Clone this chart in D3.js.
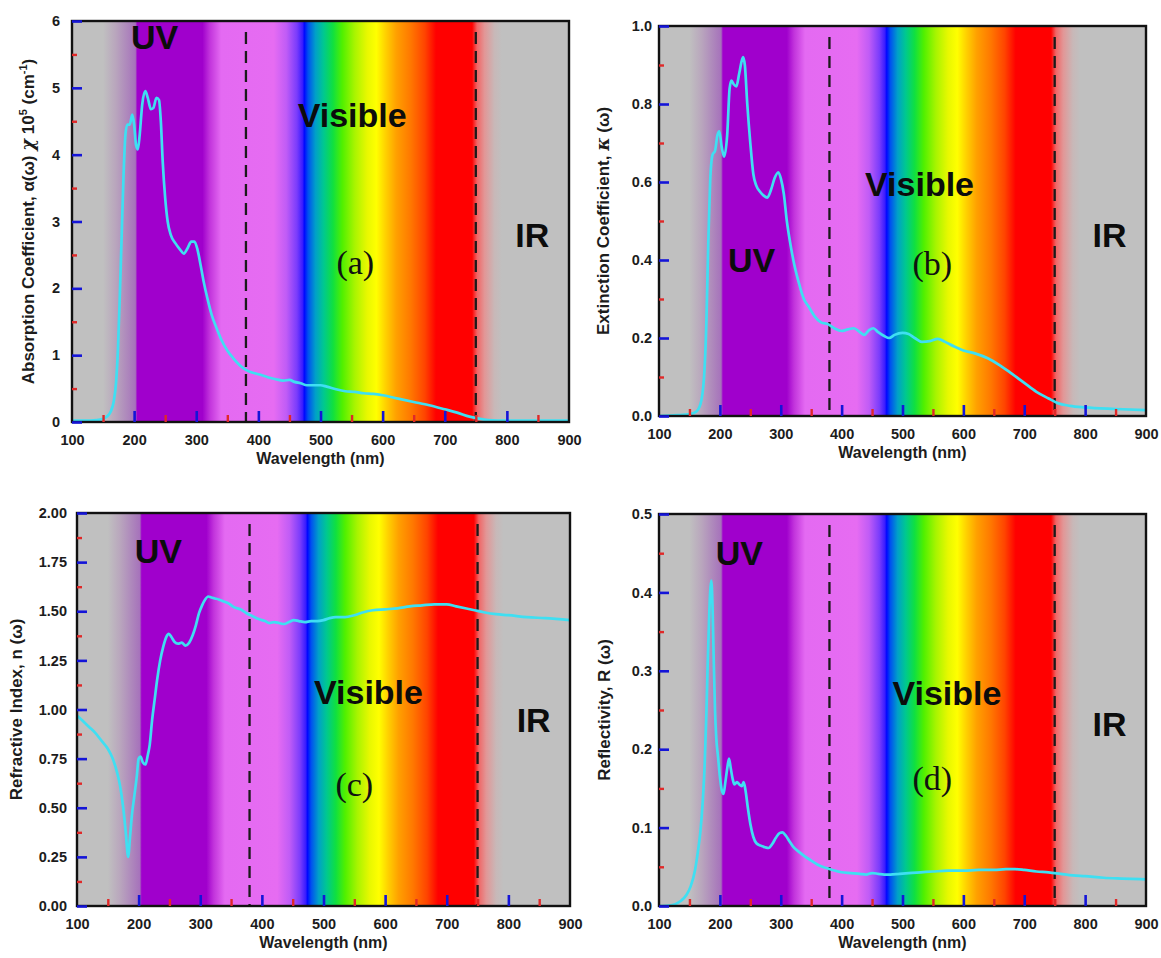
<!DOCTYPE html>
<html>
<head>
<meta charset="utf-8">
<script src="https://cdn.jsdelivr.net/npm/d3@7"></script>
<style>
  body { margin: 0; background: #ffffff; }
  svg { display: block; }
  text { font-family: "Liberation Sans", Arial, sans-serif; }
</style>
</head>
<body>
<svg id="fig" width="1161" height="958"></svg>
<script>
// ---- data -------------------------------------------------------------
const wavelengthTicks = [100, 200, 300, 400, 500, 600, 700, 800, 900];
const wavelengthMinor = [150, 250, 350, 450, 550, 650, 750, 850];
const regionBounds = [380, 750];

// (a) absorption coefficient, alpha x 10^5 (cm^-1)
const absorption = [
  [100,0.02],[120,0.02],[140,0.03],[150,0.05],[156,0.08],[162,0.15],[167,0.3],[171,0.6],
  [174,1.1],[177,1.9],[180,2.8],[183,3.7],[186,4.3],[189,4.45],[193,4.45],[197,4.6],
  [200,4.45],[203,4.15],[206,4.08],[209,4.3],[213,4.75],[218,4.95],[222,4.85],[227,4.68],
  [231,4.7],[236,4.85],[240,4.82],[243,4.5],[246,3.9],[250,3.35],[254,3.0],[259,2.8],
  [266,2.68],[274,2.58],[280,2.52],[286,2.6],[292,2.7],[297,2.7],[302,2.58],[307,2.35],
  [312,2.1],[318,1.85],[325,1.6],[333,1.4],[341,1.22],[350,1.07],[360,0.95],[370,0.85],
  [380,0.78],[390,0.74],[402,0.71],[415,0.67],[428,0.64],[440,0.62],[450,0.63],[458,0.6],
  [468,0.58],[478,0.55],[490,0.55],[500,0.55],[510,0.53],[525,0.49],[540,0.46],[555,0.45],
  [570,0.43],[585,0.42],[600,0.4],[625,0.35],[650,0.3],[675,0.25],[700,0.19],[720,0.14],
  [740,0.08],[755,0.05],[770,0.03],[800,0.02],[850,0.02],[900,0.02]
];

// (b) extinction coefficient, kappa
const extinction = [
  [100,0.0],[130,0.002],[150,0.005],[160,0.01],[168,0.03],[174,0.1],[178,0.25],[181,0.45],
  [184,0.6],[188,0.67],[192,0.68],[196,0.72],[199,0.73],[203,0.69],[207,0.665],[212,0.72],
  [216,0.84],[219,0.86],[223,0.85],[227,0.845],[232,0.88],[238,0.92],[241,0.9],[245,0.8],
  [250,0.7],[255,0.62],[260,0.59],[266,0.575],[272,0.565],[278,0.56],[284,0.58],[290,0.61],
  [296,0.625],[300,0.61],[305,0.57],[310,0.5],[316,0.44],[322,0.39],[330,0.34],[338,0.3],
  [346,0.28],[356,0.255],[366,0.24],[378,0.235],[388,0.225],[400,0.218],[410,0.222],
  [420,0.225],[430,0.215],[437,0.208],[445,0.22],[452,0.225],[460,0.215],[470,0.205],
  [478,0.2],[487,0.208],[500,0.213],[510,0.21],[520,0.2],[532,0.19],[545,0.192],[558,0.198],
  [570,0.19],[585,0.178],[600,0.168],[620,0.16],[640,0.148],[660,0.13],[680,0.108],
  [700,0.085],[720,0.062],[740,0.045],[755,0.033],[775,0.026],[800,0.022],[850,0.018],[900,0.015]
];

// (c) refractive index, n
const refractive = [
  [100,0.97],[110,0.94],[120,0.91],[130,0.88],[140,0.84],[150,0.8],[158,0.75],[165,0.68],
  [170,0.61],[175,0.5],[179,0.38],[183,0.25],[186,0.35],[189,0.46],[193,0.56],[197,0.66],
  [200,0.75],[203,0.76],[207,0.73],[211,0.72],[215,0.77],[218,0.82],[222,0.95],[226,1.05],
  [230,1.15],[235,1.25],[240,1.32],[245,1.37],[249,1.385],[253,1.37],[258,1.345],[264,1.335],
  [270,1.34],[276,1.325],[282,1.34],[288,1.38],[293,1.43],[298,1.49],[303,1.53],[308,1.56],
  [313,1.575],[318,1.57],[324,1.565],[330,1.56],[338,1.55],[346,1.54],[355,1.52],[365,1.51],
  [375,1.49],[385,1.475],[395,1.46],[405,1.45],[412,1.44],[420,1.445],[428,1.44],[436,1.435],
  [444,1.445],[452,1.455],[460,1.45],[470,1.445],[480,1.45],[490,1.45],[500,1.455],[510,1.465],
  [520,1.47],[535,1.47],[550,1.48],[565,1.495],[580,1.505],[600,1.51],[620,1.515],[640,1.525],
  [660,1.53],[680,1.535],[700,1.535],[715,1.525],[730,1.515],[745,1.505],[760,1.495],
  [780,1.485],[800,1.48],[830,1.47],[860,1.465],[900,1.455]
];

// (d) reflectivity, R
const reflectivity = [
  [100,0.0],[120,0.001],[135,0.006],[145,0.014],[152,0.025],[159,0.045],[164,0.07],[168,0.095],
  [172,0.135],[175,0.18],[178,0.25],[180,0.31],[182,0.36],[184,0.4],[186,0.415],[188,0.38],
  [190,0.31],[192,0.25],[194,0.215],[197,0.19],[200,0.165],[203,0.148],[206,0.143],[209,0.158],
  [212,0.175],[215,0.188],[218,0.175],[221,0.162],[224,0.155],[228,0.158],[232,0.155],
  [236,0.153],[239,0.158],[242,0.148],[246,0.125],[250,0.105],[255,0.088],[260,0.08],
  [267,0.077],[274,0.075],[280,0.074],[286,0.079],[292,0.087],[298,0.093],[303,0.094],
  [308,0.09],[314,0.083],[320,0.076],[330,0.069],[340,0.063],[350,0.058],[360,0.053],
  [372,0.049],[385,0.046],[400,0.043],[415,0.042],[430,0.041],[440,0.04],[450,0.042],
  [460,0.041],[470,0.04],[480,0.04],[495,0.041],[510,0.042],[530,0.043],[550,0.044],
  [575,0.045],[600,0.045],[625,0.046],[650,0.046],[670,0.047],[685,0.047],[700,0.046],
  [720,0.044],[740,0.043],[760,0.041],[780,0.039],[800,0.038],[830,0.036],[860,0.035],[900,0.034]
];

// y-axis ticks of each panel
const yTicksA = [0, 1, 2, 3, 4, 5, 6];
const yMinorA = [0.5, 1.5, 2.5, 3.5, 4.5, 5.5];
const yTicksB = [0, 0.2, 0.4, 0.6, 0.8, 1.0];
const yMinorB = [0.1, 0.3, 0.5, 0.7, 0.9];
const yTicksC = [0, 0.25, 0.5, 0.75, 1.0, 1.25, 1.5, 1.75, 2.0];
const yMinorC = [0.125, 0.375, 0.625, 0.875, 1.125, 1.375, 1.625, 1.875];
const yTicksD = [0, 0.1, 0.2, 0.3, 0.4, 0.5];
const yMinorD = [0.05, 0.15, 0.25, 0.35, 0.45];

// background spectrum colour stops (wavelength in nm)
const spectrumStops = [
  [100,"#c0c0c0"],[150,"#c0c0c0"],[170,"#b9a6bd"],[202,"#a672bb"],[205,"#a000cc"],
  [310,"#a000cc"],[322,"#c234dc"],[340,"#e46af2"],[425,"#e66cf2"],[445,"#c05cf6"],
  [462,"#7a3cfc"],[471,"#3a1cff"],[474,"#0008ff"],[480,"#0050f0"],[492,"#00a0c8"],
  [505,"#00c890"],[520,"#10e040"],[535,"#50f000"],[555,"#a8f400"],[575,"#e8f800"],
  [590,"#ffff00"],[605,"#ffd000"],[622,"#ffa000"],[645,"#ff7800"],[668,"#ff4400"],
  [686,"#ff0000"],[744,"#ff0000"],[752,"#f06666"],[764,"#e29696"],[780,"#c8b8b8"],
  [792,"#c0c0c0"],[900,"#c0c0c0"]
];

// ---- layout -----------------------------------------------------------
const panels = [
  { data: absorption, box: [72, 569, 21, 422], yDomain: [0, 6], ticks: yTicksA, minor: yMinorA,
    fmt: d3.format("d"), labelGap: 12, yTitleX: 34,
    title: [["Absorption Coefficient, α(ω) "], ["χ", "italic"], [" 10"], ["5", "sup"], [" (cm", "up"], ["-1", "sup"], [")", "up"]],
    letter: "(a)", pos: { uv: [233, 5.76], vis: [551, 4.6], ir: [841, 2.8], letter: [556, 2.38] } },
  { data: extinction, box: [659, 1146, 26, 416], yDomain: [0, 1], ticks: yTicksB, minor: yMinorB,
    fmt: d3.format(".1f"), labelGap: 7, yTitleX: 609,
    title: [["Extinction Coefficient, "], ["κ", "italic"], [" (ω)"]],
    letter: "(b)", pos: { uv: [252, 0.40], vis: [528, 0.595], ir: [840, 0.464], letter: [549, 0.392] } },
  { data: refractive, box: [77, 570, 513, 906], yDomain: [0, 2], ticks: yTicksC, minor: yMinorC,
    fmt: d3.format(".2f"), labelGap: 10, yTitleX: 22,
    title: [["Refractive Index, n (ω)"]],
    letter: "(c)", pos: { uv: [232, 1.807], vis: [573, 1.089], ir: [841, 0.947], letter: [550, 0.616] } },
  { data: reflectivity, box: [659, 1146, 514, 906], yDomain: [0, 0.5], ticks: yTicksD, minor: yMinorD,
    fmt: d3.format(".1f"), labelGap: 7, yTitleX: 610,
    title: [["Reflectivity, R (ω)"]],
    letter: "(d)", pos: { uv: [232, 0.450], vis: [573, 0.272], ir: [840, 0.232], letter: [549, 0.163] } }
];

const svg = d3.select("#fig");
const defs = svg.append("defs");

// shared spectrum gradient, laid out along the 100-900 nm span of each plot
const unit = d3.scaleLinear().domain([100, 900]).range([0, 1]);
const grad = defs.append("linearGradient")
  .attr("id", "spectrum").attr("x1", 0).attr("x2", 1).attr("y1", 0).attr("y2", 0);
grad.selectAll("stop").data(spectrumStops).join("stop")
  .attr("offset", d => unit(d[0]))
  .attr("stop-color", d => d[1]);

const majorBlue = "#1414d8";
const minorRed = "#e02828";
const curveColor = "#3fdff2";

panels.forEach((p, i) => {
  const [x0, x1, y0, y1] = p.box;
  const x = d3.scaleLinear().domain([100, 900]).range([x0, x1]);
  const y = d3.scaleLinear().domain(p.yDomain).range([y1, y0]);
  const g = svg.append("g");

  // spectrum background
  g.append("rect")
    .attr("x", x(100)).attr("y", y0)
    .attr("width", x(900) - x(100)).attr("height", y1 - y0)
    .attr("fill", "url(#spectrum)");

  // UV / visible / IR boundaries
  g.selectAll("line.bound").data(regionBounds).join("line")
    .attr("class", "bound")
    .attr("x1", d => x(d)).attr("x2", d => x(d))
    .attr("y1", y0 + 11).attr("y2", y1)
    .attr("stroke", "#1a1a1a").attr("stroke-width", 2.3)
    .attr("stroke-dasharray", "12,7");

  // region labels
  const big = (txt, at) => g.append("text")
    .attr("x", x(at[0])).attr("y", y(at[1]))
    .attr("text-anchor", "middle").attr("dominant-baseline", "central")
    .attr("font-size", 34).attr("font-weight", "bold").attr("fill", "#0c0c0c")
    .text(txt);
  big("UV", p.pos.uv);
  big("Visible", p.pos.vis);
  big("IR", p.pos.ir);
  g.append("text")
    .attr("x", x(p.pos.letter[0])).attr("y", y(p.pos.letter[1]))
    .attr("text-anchor", "middle").attr("dominant-baseline", "central")
    .attr("font-size", 34).attr("fill", "#111")
    .style("font-family", "'Liberation Serif', 'Times New Roman', serif")
    .text(p.letter);

  // data curve
  const clipId = "clip" + i;
  defs.append("clipPath").attr("id", clipId).append("rect")
    .attr("x", x0).attr("y", y0).attr("width", x1 - x0).attr("height", y1 - y0);
  const line = d3.line().x(d => x(d[0])).y(d => y(d[1])).curve(d3.curveMonotoneX);
  g.append("path").datum(p.data)
    .attr("d", line)
    .attr("clip-path", `url(#${clipId})`)
    .attr("fill", "none").attr("stroke", curveColor)
    .attr("stroke-width", 2.7).attr("stroke-linejoin", "round");

  // frame
  g.append("rect")
    .attr("x", x0).attr("y", y0).attr("width", x1 - x0).attr("height", y1 - y0)
    .attr("fill", "none").attr("stroke", "#111").attr("stroke-width", 2.4);

  // x-axis: inward major (blue) and minor (red) ticks, then labels
  const xMajor = g.append("g").attr("transform", `translate(0,${y1})`)
    .call(d3.axisBottom(x).tickValues(wavelengthTicks.slice(1, -1)).tickSize(-11).tickFormat(""));
  const xMinor = g.append("g").attr("transform", `translate(0,${y1})`)
    .call(d3.axisBottom(x).tickValues(wavelengthMinor).tickSize(-7).tickFormat(""));
  const xLab = g.append("g").attr("transform", `translate(0,${y1})`)
    .call(d3.axisBottom(x).tickValues(wavelengthTicks).tickSize(0).tickPadding(13));

  // y-axis
  const yMajor = g.append("g").attr("transform", `translate(${x0},0)`)
    .call(d3.axisLeft(y).tickValues(p.ticks).tickSize(-10).tickFormat(""));
  const yMinor = g.append("g").attr("transform", `translate(${x0},0)`)
    .call(d3.axisLeft(y).tickValues(p.minor).tickSize(-5).tickFormat(""));
  const yLab = g.append("g").attr("transform", `translate(${x0},0)`)
    .call(d3.axisLeft(y).tickValues(p.ticks).tickSize(0).tickPadding(p.labelGap).tickFormat(p.fmt));

  [xMajor, xMinor, xLab, yMajor, yMinor, yLab].forEach(a => a.select(".domain").remove());
  [xMajor, yMajor].forEach(a => a.selectAll(".tick line").attr("stroke", majorBlue).attr("stroke-width", 2.6));
  [xMinor, yMinor].forEach(a => a.selectAll(".tick line").attr("stroke", minorRed).attr("stroke-width", 2.4));
  [xLab, yLab].forEach(a => a.selectAll(".tick text")
    .attr("font-size", 14.5).attr("font-weight", "bold").attr("fill", "#1c1c1c")
    .style("font-family", "'Liberation Sans', Arial, sans-serif"));

  // axis titles
  g.append("text")
    .attr("x", (x0 + x1) / 2).attr("y", y1 + 42)
    .attr("text-anchor", "middle")
    .attr("font-size", 16).attr("font-weight", "bold").attr("fill", "#1c1c1c")
    .text("Wavelength (nm)");

  const yt = g.append("text")
    .attr("transform", `translate(${p.yTitleX},${(y0 + y1) / 2}) rotate(-90)`)
    .attr("text-anchor", "middle")
    .attr("font-size", 17).attr("font-weight", "bold").attr("fill", "#1c1c1c");
  p.title.forEach(([t, kind]) => {
    const s = yt.append("tspan").text(t);
    if (kind === "sup") s.attr("dy", -7).attr("font-size", 11);
    else if (kind === "up") s.attr("dy", 7);
    else if (kind === "italic") s.attr("font-style", "italic")
      .style("font-family", "'DejaVu Serif', serif").attr("font-size", 18);
  });
});
</script>
</body>
</html>
